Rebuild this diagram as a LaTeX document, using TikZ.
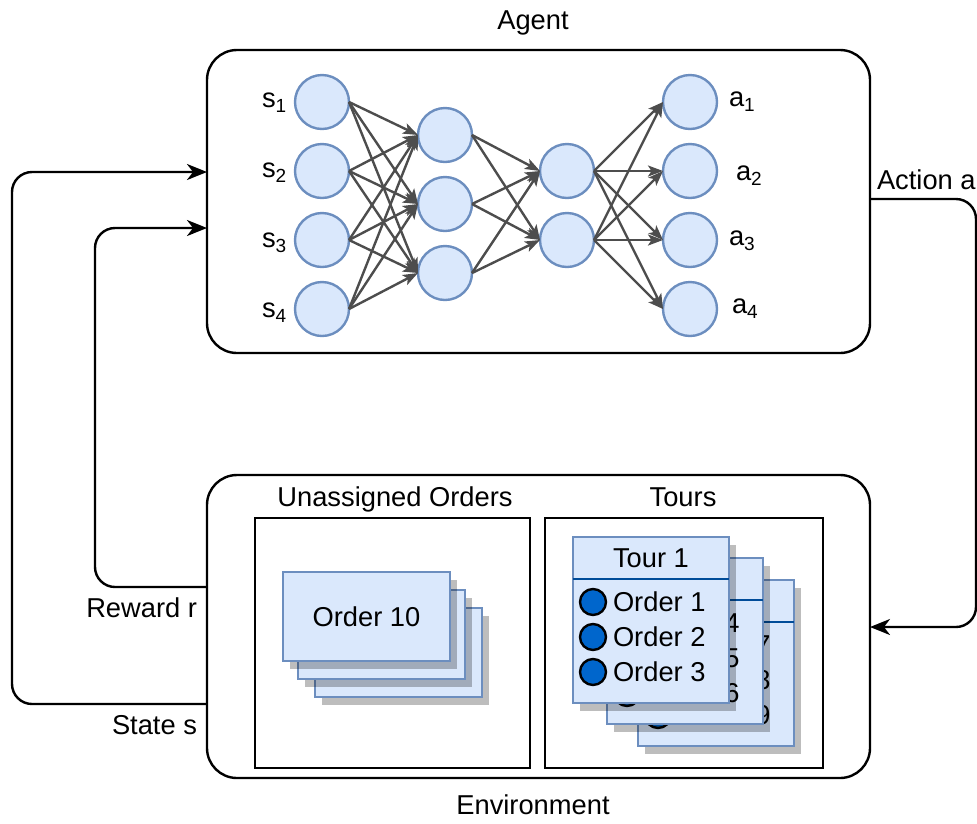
\documentclass[tikz,border=0pt]{standalone}
\usepackage{fontspec}
\setmainfont{Liberation Sans}
\usetikzlibrary{arrows.meta,calc}

\definecolor{nfill}{HTML}{DAE8FC}
\definecolor{nline}{HTML}{6C8EBF}
\definecolor{edgegray}{HTML}{4D4D4D}
\definecolor{hdrblue}{HTML}{004C99}
\definecolor{dotblue}{HTML}{0066CC}

% small lowered index for the neuron labels
\newcommand\lsub[1]{\raisebox{-5pt}{\fontsize{19}{19}\selectfont #1}}

% one tour card: name, top-left x, top-left y, three order numbers;
% the "Order " words of the cards further back lie under the card in front,
% so only the numbers are set for those rows
\newcommand\tourcard[6]{%
  \fill[cardshadow] (#2+7,#3+8) rectangle ++(156,166);
  \node[card, minimum width=156pt, minimum height=166pt] (#1) at (#2,#3) {};
  \draw[hdrline] ($(#1.north west)+(0,42)$) -- ($(#1.north east)+(0,42)$);
  \node[dot] (#1r1) at ($(#1.north west)+(20,65)$) {};
  \node[dot] (#1r2) at ($(#1.north west)+(20,100)$) {};
  \node[dot] (#1r3) at ($(#1.north west)+(20,135)$) {};
  \node[anchor=base west] (#1t1) at ($(#1r1)+(97.4,9.8)$) {#4};
  \node[anchor=base west] (#1t2) at ($(#1r2)+(97.4,9.8)$) {#5};
  \node[anchor=base west] (#1t3) at ($(#1r3)+(97.4,9.8)$) {#6};
}

\begin{document}
\begin{tikzpicture}[x=1pt,y=-1pt,
  every node/.style={font=\fontsize{27.3}{32}\selectfont, inner sep=0pt, outer sep=0pt},
  bigbox/.style={draw, line width=2.4pt, rounded corners=30pt, anchor=north west,
                 minimum width=663pt, minimum height=303pt},
  panel/.style={draw, line width=2.4pt, anchor=north west, minimum height=250pt},
  neuron/.style={circle, draw=nline, fill=nfill, line width=2.4pt, minimum size=54pt},
  link/.style={draw=edgegray, line width=2.4pt, -{Stealth[length=15pt,width=11pt,inset=3.5pt]}},
  loopline/.style={line width=2.4pt, rounded corners=20pt, -{Stealth[length=20pt,width=16pt,inset=6pt]}},
  card/.style={draw=nline, fill=nfill, line width=2.4pt, anchor=north west},
  cardshadow/.style={fill=black, fill opacity=0.26},
  hdrline/.style={draw=hdrblue, line width=2.4pt},
  dot/.style={circle, draw=black, fill=dotblue, line width=2.4pt, minimum size=26pt},
  lbl/.style={anchor=base, yshift=-9.8pt}
]
\useasboundingbox (0,0) rectangle (977,823);

% ---------- agent and environment frames ----------
\node[bigbox] (agent) at (207,50) {};
\node[bigbox] (env) at (207,475) {};
\node[lbl] (agentlbl) at (533,20) {Agent};
\node[lbl] (envlbl) at (533,805) {Environment};

% ---------- neural network ----------
\foreach \i/\y in {1/102,2/171,3/240,4/309} \node[neuron] (in\i) at (322,\y) {};
\foreach \i/\y in {1/135,2/204,3/273} \node[neuron] (h\i) at (445,\y) {};
\foreach \i/\y in {1/171,2/240} \node[neuron] (g\i) at (567,\y) {};
\foreach \i/\y in {1/102,2/171,3/240,4/309} \node[neuron] (out\i) at (690,\y) {};

\foreach \i in {1,...,4} \foreach \j in {1,2,3} \draw[link] (in\i.east) -- (h\j.west);
\foreach \i in {1,2,3} \foreach \j in {1,2} \draw[link] (h\i.east) -- (g\j.west);
\foreach \i in {1,2} \foreach \j in {1,...,4} \draw[link] (g\i.east) -- (out\j.west);

\node[anchor=base west] (ls1) at (262,107) {s\lsub{1}};
\node[anchor=base west] (ls2) at (262,177) {s\lsub{2}};
\node[anchor=base west] (ls3) at (262,247) {s\lsub{3}};
\node[anchor=base west] (ls4) at (262,317) {s\lsub{4}};
\node[anchor=base west] (la1) at (729,106) {a\lsub{1}};
\node[anchor=base west] (la2) at (736,180) {a\lsub{2}};
\node[anchor=base west] (la3) at (729,245) {a\lsub{3}};
\node[anchor=base west] (la4) at (732,313) {a\lsub{4}};

% ---------- environment panels ----------
\node[panel, minimum width=275pt] (unassigned) at (255,518) {};
\node[panel, minimum width=278pt] (tours) at (545,518) {};
\node[lbl] (unlbl) at (395,497) {Unassigned Orders};
\node[lbl] (tourslbl) at (683,497) {Tours};

% stack of unassigned orders, back to front
\fill[cardshadow] (322,616) rectangle ++(167,89);
\node[card, minimum width=167pt, minimum height=89pt] (ord3) at (315,608) {};
\fill[cardshadow] (305,598) rectangle ++(167,89);
\node[card, minimum width=167pt, minimum height=89pt] (ord2) at (298,590) {};
\fill[cardshadow] (290,580) rectangle ++(167,89);
\node[card, minimum width=167pt, minimum height=89pt] (ord1) at (283,572) {};
\node[lbl] (ordtxt) at (ord1.center) {Order 10};

% stack of tours, back to front
\tourcard{tc}{638}{580}{7}{8}{9}
\tourcard{tb}{607}{558}{4}{5}{6}
% front card, fully readable
\fill[cardshadow] (580,545) rectangle ++(156,166);
\node[card, minimum width=156pt, minimum height=166pt] (ta) at (573,537) {};
\draw[hdrline] ($(ta.north west)+(0,42)$) -- ($(ta.north east)+(0,42)$);
\node[lbl] (tatitle) at ($(ta.north)+(0,21)$) {Tour 1};
\node[dot] (tar1) at ($(ta.north west)+(20,65)$) {};
\node[dot] (tar2) at ($(ta.north west)+(20,100)$) {};
\node[dot] (tar3) at ($(ta.north west)+(20,135)$) {};
\node[anchor=base west] (tat1) at ($(tar1)+(20,9.8)$) {Order 1};
\node[anchor=base west] (tat2) at ($(tar2)+(20,9.8)$) {Order 2};
\node[anchor=base west] (tat3) at ($(tar3)+(20,9.8)$) {Order 3};

% ---------- feedback loops ----------
\draw[loopline] (env.west |- 0,704) -| (12,172) -- (agent.west |- 0,172);
\draw[loopline] (env.west |- 0,587) -| (95,228) -- (agent.west |- 0,228);
\draw[loopline] (agent.east |- 0,199) -| (976,627) -- (env.east |- 0,627);

\node[lbl, anchor=base west] (actlbl) at (877,180) {Action a};
\node[lbl, anchor=base east] (rewlbl) at (197,608) {Reward r};
\node[lbl, anchor=base east] (statelbl) at (197,725) {State s};
\end{tikzpicture}
\end{document}
